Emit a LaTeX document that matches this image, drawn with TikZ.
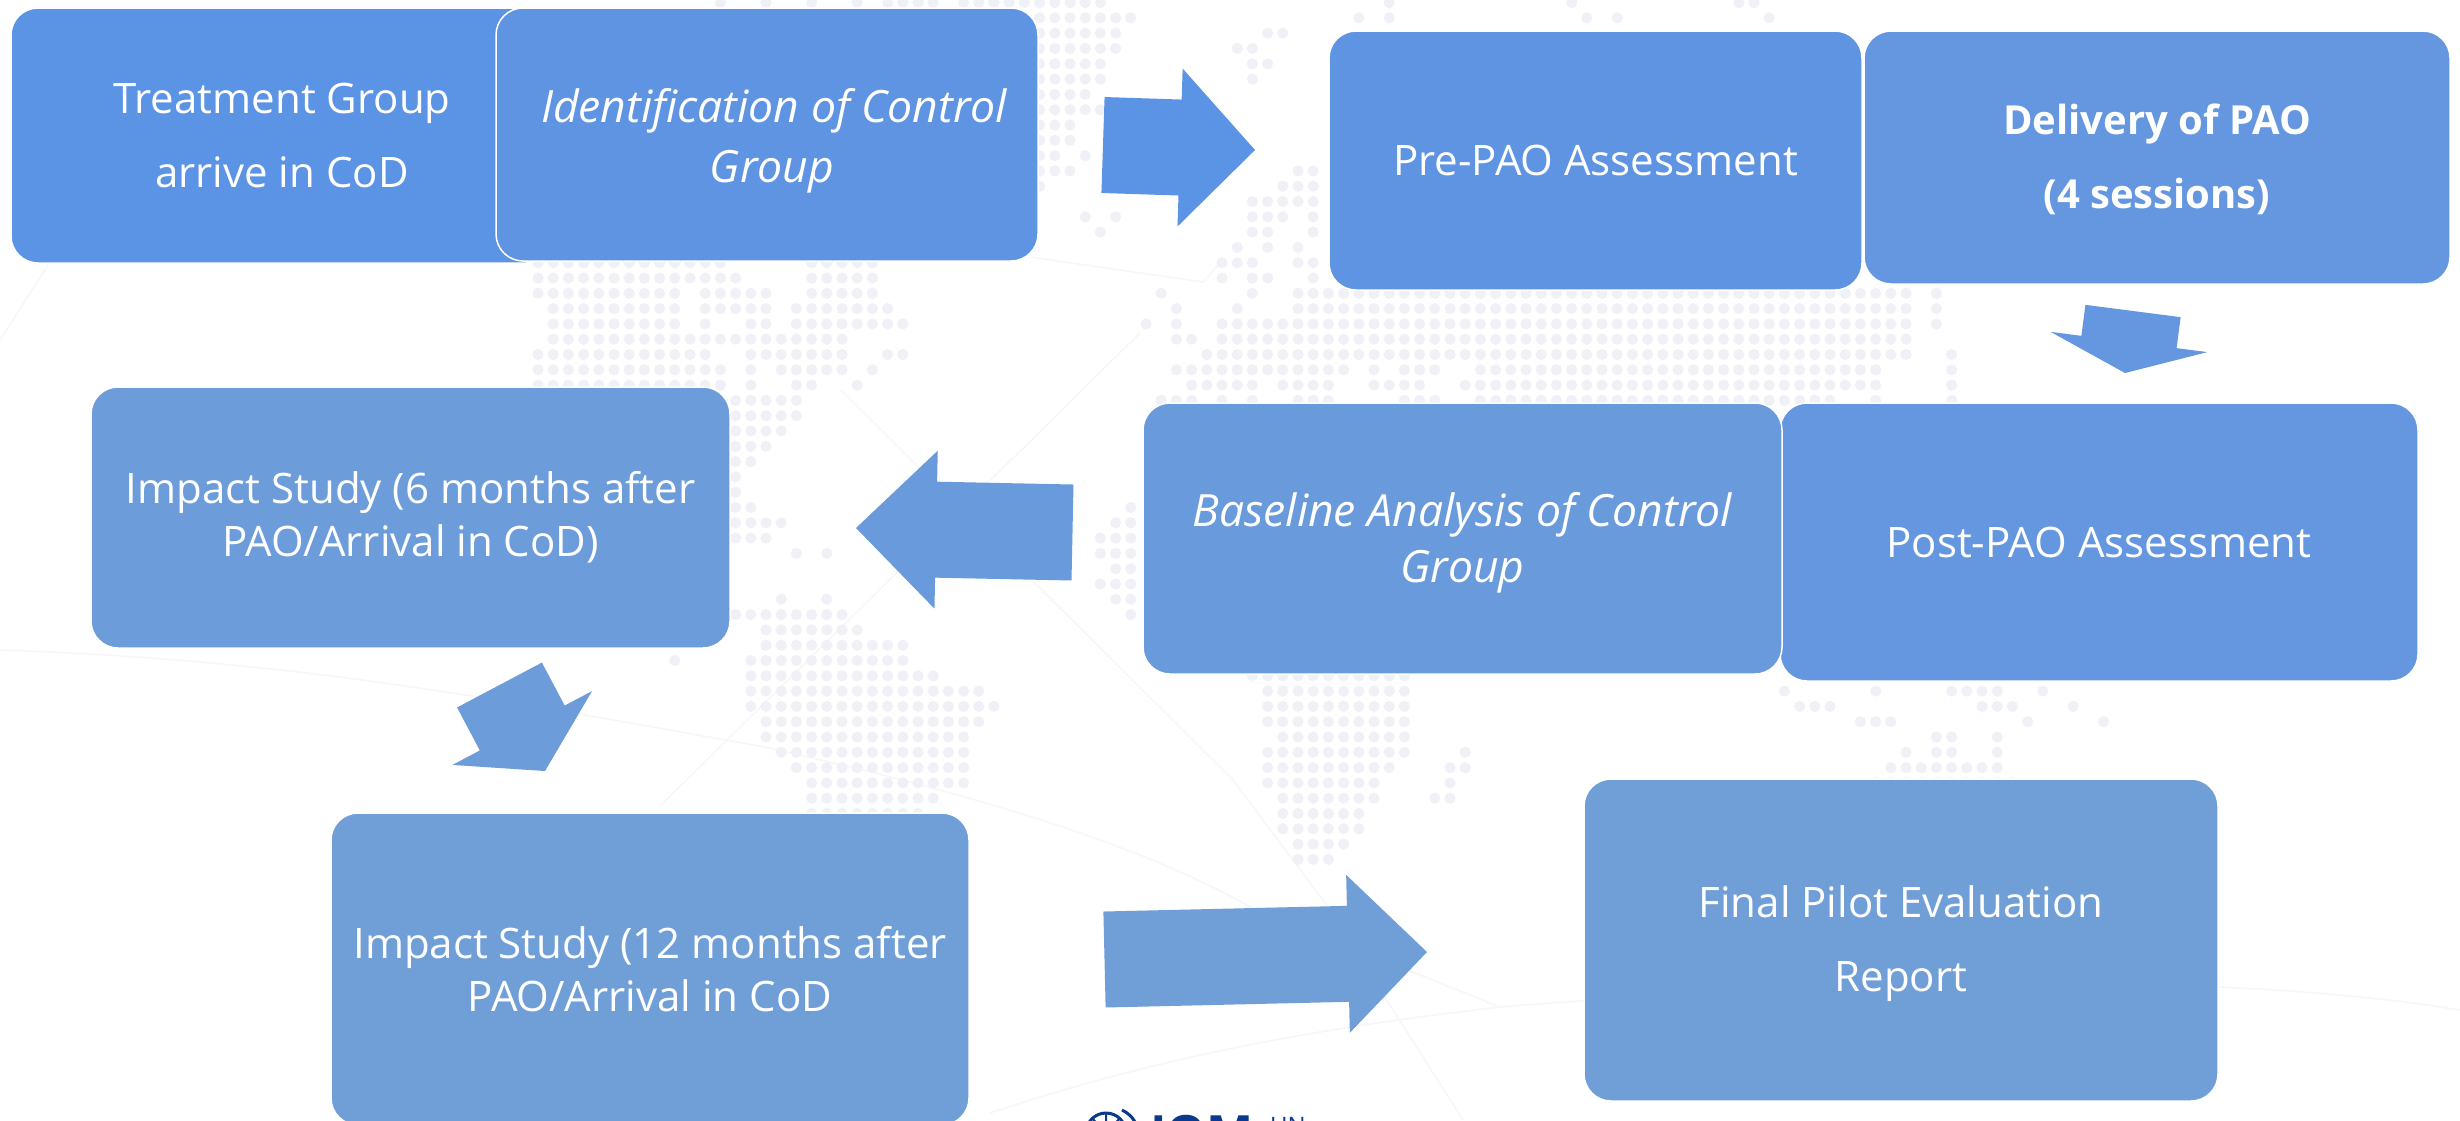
\documentclass[tikz,border=0pt]{standalone}
\usepackage{fontspec}
\usepackage{xcolor}
\usetikzlibrary{calc}
\setmainfont{Open Sans}

\definecolor{blueA}{HTML}{5B93E5}
\definecolor{blueB}{HTML}{5F94E3}
\definecolor{blueC}{HTML}{6497E0}
\definecolor{blueD}{HTML}{689ADC}
\definecolor{blueE}{HTML}{6C9CD9}
\definecolor{blueF}{HTML}{709FD7}
\definecolor{dotgrey}{HTML}{F0F1F7}
\definecolor{linegrey}{HTML}{F7F7F9}
\definecolor{iomblue}{HTML}{0B3A8C}

\tikzset{
  pilotbox/.style={draw=white,line width=1.5pt,rounded corners=27pt,inner sep=0pt,
    text=white,align=center,font=\fontsize{42}{53}\selectfont},
  pilotital/.style={pilotbox,font=\fontsize{44.5}{56}\selectfont\itshape},
  pilotbold/.style={pilotbox,font=\fontsize{40}{53}\selectfont\bfseries},
  mapdot/.style={fill=dotgrey,draw=none},
  netline/.style={draw=linegrey,line width=1.6pt}
}

% block arrow: tail, tip, place of the head along it, colour
\newcommand{\blockarrow}[4]{
  \coordinate (headmid) at ($(#1)!#3!(#2)$);
  \fill[#4] ($(#1)!48pt!90:(#2)$) -- ($(headmid)!48pt!90:(#2)$) -- ($(headmid)!79pt!90:(#2)$)
    -- (#2) -- ($(headmid)!79pt!-90:(#2)$) -- ($(headmid)!48pt!-90:(#2)$)
    -- ($(#1)!48pt!-90:(#2)$) -- cycle;
}

\begin{document}
\begin{tikzpicture}[x=1pt,y=1pt]
        \path[use as bounding box,clip] (0,0) rectangle (2460,-1120);
        \fill[white] (0,0) rectangle (2460,-1120);

        % Faint network lines
        \draw[netline] (0,-650) .. controls (300,-660) and (500,-700) .. (765,-747)
          .. controls (1000,-800) and (1150,-850) .. (1250,-907) -- (1500,-1007);
        \draw[netline] (990,-1113) .. controls (1150,-1060) and (1300,-1030) .. (1500,-1007)
          .. controls (1900,-975) and (2250,-975) .. (2460,-1010);
        \draw[netline] (1140,-333) -- (660,-806);
        \draw[netline] (0,-340) -- (48,-265);
        \draw[netline] (841,-390) -- (1233,-780) -- (1325,-903) -- (1463,-1120);
        \draw[netline] (1030,-257) -- (1203,-282) -- (1220,-263);

        % Dots of the world map, row / first column / last column
        \foreach \row/\first/\last in {-18/12/12,-18/15/15,-18/18/18,-18/21/21,-18/23/26,-18/28/37,-18/56/56,-18/68/68,-18/79/80,
            -17/33/39,-17/54/54,-17/56/56,-17/69/69,-17/71/71,-17/81/81,-16/33/38,-16/48/49,-15/33/38,-15/46/47,-14/33/37,-14/47/48,
            -13/33/37,-13/47/47,-12/33/36,-11/33/37,-10/33/35,-9/33/35,-8/33/34,-8/36/36,-7/33/35,-7/50/51,-6/33/33,-6/49/51,
            -5/47/51,-4/36/36,-4/38/38,-4/47/49,-4/51/51,-3/37/37,-3/47/48,-3/51/51,-2/46/46,-2/48/48,-2/50/50,
            -1/0/12,-1/18/22,-1/45/47,-1/50/51,0/0/13,0/18/22,0/45/45,0/47/48,0/51/51,
            1/0/9,1/11/15,1/18/22,2/1/9,2/11/15,2/17/23,3/1/9,3/11/11,3/14/15,3/17/24,4/1/20,
            5/0/11,5/14/20,5/23/24,6/0/12,6/14/14,6/16/20,6/22/22,7/0/12,7/14/14,7/17/18,7/21/21,
            8/13/17,9/13/17,10/13/16,11/13/15,12/13/14,13/13/13,14/13/13,15/13/14,16/13/16,17/13/15,18/17/17,18/19/19,21/16/16,21/19/19,
            1/41/41,1/47/47,1/50/90,1/92/92,2/42/42,2/46/46,2/50/90,2/92/92,3/40/40,3/42/42,3/45/90,3/92/92,4/42/43,4/45/90,
            5/44/90,5/93/93,6/42/53,6/55/55,6/57/59,6/62/88,6/93/93,7/43/47,7/49/52,7/55/58,7/61/88,7/93/93,
            8/41/43,8/45/45,8/47/47,8/50/52,8/57/59,8/62/85,8/88/88,8/93/93,
            15/39/39,16/38/39,17/37/39,18/37/39,19/38/39,20/37/39,21/38/39,22/39/39,
            22/13/20,23/15/21,24/15/24,25/9/9,25/14/24,26/14/26,27/14/29,28/14/30,29/15/29,30/15/28,31/16/28,32/17/28,33/18/28,34/18/26,35/18/25,
            26/47/57,27/48/57,28/48/57,29/48/57,30/49/57,31/48/57,31/61/61,32/48/56,32/60/61,33/48/55,33/60/60,34/49/55,34/59/60,
            35/49/54,36/49/54,37/50/53,38/50/52,
            27/82/82,27/88/88,27/93/96,27/99/99,28/83/85,28/95/97,28/101/101,29/87/89,29/98/98,29/103/103,
            30/92/93,30/96/96,31/90/90,31/92/93,31/96/96,32/89/96,33/88/97}{
          \foreach \col in {\first,...,\last}{
            \fill[mapdot] (538+15.2*\col,-278-15.3*\row) circle (5.6);
          }
        }

        % First row
        \node[pilotbox,fill=blueA,minimum width=542pt,minimum height=255pt] (treat) at (282,-135.5)
          {Treatment Group\\[21pt]arrive in CoD};
        \node[pilotital,fill=blueB,minimum width=542pt,minimum height=253pt] (ident) at (767,-134.5)
          {\rule{0pt}{47pt}\hspace*{14pt}Identification of Control\\[4pt]\hspace*{10pt}Group};
        \node[pilotbox,fill=blueB,minimum width=533pt,minimum height=259pt] (prepao) at (1595.5,-160.5)
          {Pre-PAO Assessment};
        \node[pilotbold,fill=blueC,minimum width=586pt,minimum height=253pt] (delivery) at (2157,-157.5)
          {\rule{0pt}{33.5pt}Delivery of PAO\\[21pt](4 sessions)};

        % Second row
        \node[pilotbox,fill=blueC,minimum width=638pt,minimum height=278pt] (postpao) at (2099,-542)
          {Post-PAO Assessment};
        \node[pilotital,fill=blueD,minimum width=639pt,minimum height=271pt] (baseline) at (1462.5,-538.5)
          {\rule{0pt}{43.5pt}Baseline Analysis of Control\\Group};
        \node[pilotbox,fill=blueE,minimum width=639pt,minimum height=261pt] (impactsix) at (410.5,-517.5)
          {Impact Study (6 months after\\PAO/Arrival in CoD)};

        % Third row
        \node[pilotbox,fill=blueF,minimum width=638pt,minimum height=312pt] (impacttwelve) at (650,-969)
          {Impact Study (12 months after\\PAO/Arrival in CoD};
        \node[pilotbox,fill=blueF,minimum width=634pt,minimum height=322pt] (finalrep) at (1901,-940)
          {\rule{0pt}{40pt}Final Pilot Evaluation\\[21pt]Report};

        % Block arrows
        \coordinate (tailone) at (1103,-145);
        \coordinate (tipone) at (1255,-150);
        \blockarrow{tailone}{tipone}{0.507}{blueA}
        \coordinate (tailtwo) at (2133,-311);
        \coordinate (tiptwo) at (2125,-373);
        \blockarrow{tailtwo}{tiptwo}{0.5}{blueC}
        \coordinate (tailthree) at (1072.5,-532.5);
        \coordinate (tipthree) at (856,-528);
        \blockarrow{tailthree}{tipthree}{0.63}{blueD}
        \coordinate (tailfour) at (499.5,-685);
        \coordinate (tipfour) at (545,-771);
        \blockarrow{tailfour}{tipfour}{0.5}{blueE}
        \coordinate (tailfive) at (1104.5,-959.5);
        \coordinate (tipfive) at (1427,-952);
        \blockarrow{tailfive}{tipfive}{0.755}{blueF}

        % Logo at the lower edge
        \draw[iomblue,line width=3pt] (1106,-1133) circle (20);
        \draw[iomblue,line width=2pt] (1106,-1113) -- (1106,-1133) -- (1092,-1118) (1106,-1133) -- (1120,-1118);
        \draw[iomblue,line width=3pt] (1122,-1110) .. controls (1130,-1114) and (1135,-1120) .. (1136,-1125);
        \node[anchor=base west,inner sep=0pt,text=iomblue,font=\fontsize{50}{50}\selectfont\bfseries] (iom) at (1150,-1151) {IOM};
        \node[anchor=base west,inner sep=0pt,text=iomblue,font=\fontsize{24}{24}\selectfont] (un) at (1270,-1134) {UN};
    \end{tikzpicture}
\end{document}
